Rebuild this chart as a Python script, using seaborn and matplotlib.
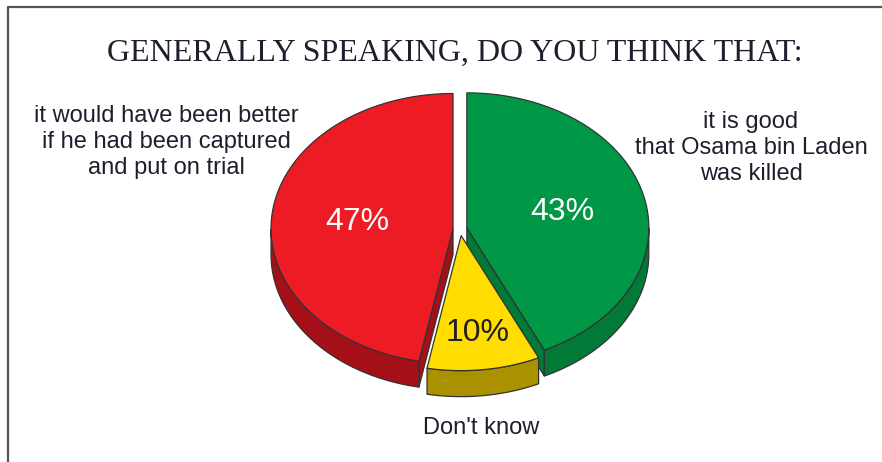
import numpy as np
import matplotlib
matplotlib.use("Agg")
import matplotlib.pyplot as plt
from matplotlib.patches import Polygon
from matplotlib.lines import Line2D
import seaborn as sns

# Survey answers, listed clockwise from 12 o'clock
title = "GENERALLY SPEAKING, DO YOU THINK THAT:"
categories = [
    "it is good\nthat Osama bin Laden\nwas killed",
    "Don't know",
    "it would have been better\nif he had been captured\nand put on trial",
]
shares = [43, 10, 47]
pct_labels = ["43%", "10%", "47%"]

# Styling
top_colors = ["#009846", "#FFDD00", "#ED1C24"]
side_colors = ["#007A36", "#AA9100", "#A50F17"]
pct_colors = ["white", "#231F20", "white"]
explode_px = [7, 9, 7]
label_radius = [0.54, 0.73, 0.53]
cat_pos = [(751, 148), (481, 428), (166, 142)]

sns.set_style("white")
plt.rcParams["font.family"] = ["Liberation Sans", "DejaVu Sans"]

fig = plt.figure(figsize=(8.82, 4.62), dpi=100)
ax = fig.add_axes([0, 0, 1, 1])
ax.set_xlim(0, 882)
ax.set_ylim(462, 0)
ax.axis("off")

# Pie geometry (screen units): centre, horizontal/vertical radii, thickness
CX, CY, A, B, DEPTH = 460, 229, 182, 135, 26
EDGE = dict(edgecolor="#333333", linewidth=0.9, joinstyle="round")


def rim(theta, ox, oy):
    t = np.radians(theta)
    return ox + CX + A * np.cos(t), oy + CY - B * np.sin(t)


total = float(sum(shares))
sweep = 360.0 * np.array(shares) / total
starts = 90.0 - np.concatenate([[0.0], np.cumsum(sweep)[:-1]])
ends = starts - sweep
mids = (starts + ends) / 2

# back-to-front painting order
order = sorted(range(len(shares)), key=lambda i: -np.sin(np.radians(mids[i])))

for i in order:
    t1, t2, m = starts[i], ends[i], mids[i]
    ox = explode_px[i] * np.cos(np.radians(m))
    oy = -explode_px[i] * (B / A) * np.sin(np.radians(m))
    apex = (CX + ox, CY + oy)

    # cut faces turned towards the viewer
    for t, visible in ((t1, np.cos(np.radians(t1)) < -1e-6),
                       (t2, np.cos(np.radians(t2)) > 1e-6)):
        if visible:
            px, py = rim(t, ox, oy)
            quad = [apex, (px, py), (px, py + DEPTH), (apex[0], apex[1] + DEPTH)]
            ax.add_patch(Polygon(quad, closed=True, facecolor=side_colors[i], **EDGE))

    # curved outer wall on the front half
    th = np.linspace(t1, t2, 400)
    th = th[np.sin(np.radians(th)) <= 1e-9]
    if th.size > 1:
        xs, ys = rim(th, ox, oy)
        wall = np.column_stack([np.concatenate([xs, xs[::-1]]),
                                np.concatenate([ys, ys[::-1] + DEPTH])])
        ax.add_patch(Polygon(wall, closed=True, facecolor=side_colors[i], **EDGE))

    # top face
    th = np.linspace(t1, t2, 400)
    xs, ys = rim(th, ox, oy)
    face = np.column_stack([np.concatenate([[apex[0]], xs]),
                            np.concatenate([[apex[1]], ys])])
    ax.add_patch(Polygon(face, closed=True, facecolor=top_colors[i], **EDGE))

    # percentage label
    lr = label_radius[i]
    lx = apex[0] + lr * A * np.cos(np.radians(m))
    ly = apex[1] - lr * B * np.sin(np.radians(m))
    ax.text(lx, ly, pct_labels[i], ha="center", va="center",
            fontsize=23, color=pct_colors[i])

# category captions
for (x, y), txt in zip(cat_pos, categories):
    ax.text(x, y, txt, ha="center", va="center", fontsize=17,
            color="#1E1E2E", linespacing=1.22)

ax.text(455, 53, title, ha="center", va="center", fontsize=23,
        color="#1E1E2E", family=["Liberation Serif", "DejaVu Serif"])

# frame along the top and left
fig.add_artist(Line2D([8 / 882, 8 / 882, 1.0], [0.0, 1 - 7 / 462, 1 - 7 / 462],
                      transform=fig.transFigure, color="#555555", linewidth=1.6))

fig.savefig("out.png", dpi=100)
